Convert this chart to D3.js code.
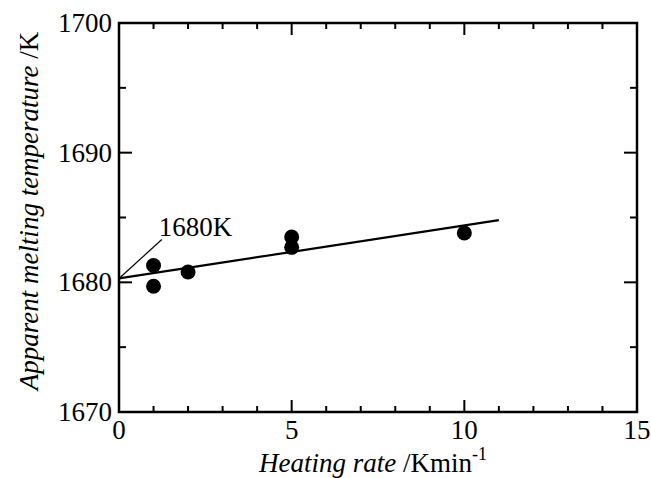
<!DOCTYPE html>
<html><head><meta charset="utf-8">
<script src="https://cdn.jsdelivr.net/npm/d3@7"></script>
</head><body style="margin:0">
<svg id="c" width="651" height="478" style="font-family: 'Liberation Serif'"></svg>
<script>
const rates = [1, 1, 2, 5, 5, 10];
const temps = [1681.3, 1679.7, 1680.8, 1683.5, 1682.7, 1683.8];
const fitX = [0, 11];
const fitY = [1680.3, 1684.8];
const xTicks = [0, 5, 10, 15];
const yTicks = [1670, 1680, 1690, 1700];
const annotation = "1680K";
const FONT = "Liberation Serif";

const svg = d3.select("#c");
const L = 119, R = 637, T = 23, B = 412;
const x = d3.scaleLinear().domain([0, 15]).range([L, R]);
const y = d3.scaleLinear().domain([1670, 1700]).range([B, T]);

const g = svg.append("g");
const minorX = d3.range(0, 16, 1);
const minorY = d3.range(1670, 1701, 5);
minorX.forEach(v => {
  const major = v % 5 === 0;
  const len = major ? 12 : 6;
  g.append("line").attr("x1", x(v)).attr("x2", x(v)).attr("y1", B).attr("y2", B - len).attr("stroke", "#000").attr("stroke-width", 2);
  g.append("line").attr("x1", x(v)).attr("x2", x(v)).attr("y1", T).attr("y2", T + len).attr("stroke", "#000").attr("stroke-width", 2);
});
minorY.forEach(v => {
  const major = v % 10 === 0;
  const len = major ? 13 : 7;
  g.append("line").attr("x1", L).attr("x2", L + len).attr("y1", y(v)).attr("y2", y(v)).attr("stroke", "#000").attr("stroke-width", 2);
  g.append("line").attr("x1", R).attr("x2", R - len).attr("y1", y(v)).attr("y2", y(v)).attr("stroke", "#000").attr("stroke-width", 2);
});
svg.append("rect").attr("x", L).attr("y", T).attr("width", R - L).attr("height", B - T)
  .attr("fill", "none").attr("stroke", "#000").attr("stroke-width", 2.5);

svg.selectAll(".xl").data(xTicks).enter().append("text")
  .style("font-family", FONT)
  .attr("x", d => x(d)).attr("y", B + 27).attr("text-anchor", "middle")
  .attr("font-size", 27).text(d => d);
svg.selectAll(".yl").data(yTicks).enter().append("text")
  .style("font-family", FONT)
  .attr("x", L - 7).attr("y", d => y(d) + 9).attr("text-anchor", "end")
  .attr("font-size", 27).text(d => d);

svg.append("line").attr("x1", x(fitX[0])).attr("y1", y(fitY[0])).attr("x2", x(fitX[1])).attr("y2", y(fitY[1]))
  .attr("stroke", "#000").attr("stroke-width", 2.2);

svg.append("line").attr("x1", x(0)).attr("y1", y(fitY[0])).attr("x2", x(1.24)).attr("y2", y(1683.3))
  .attr("stroke", "#000").attr("stroke-width", 1.2);
svg.append("text").style("font-family", FONT).attr("x", x(1.15)).attr("y", y(1683.6)).attr("font-size", 27).text(annotation);

svg.selectAll("circle").data(rates.map((r, i) => [r, temps[i]])).enter().append("circle")
  .attr("cx", d => x(d[0])).attr("cy", d => y(d[1])).attr("r", 7.5).attr("fill", "#000");

const xt = svg.append("text").style("font-family", FONT).attr("x", 373).attr("y", 472).attr("text-anchor", "middle").attr("font-size", 27);
xt.append("tspan").style("font-family", FONT).attr("font-style", "italic").text("Heating rate ");
xt.append("tspan").style("font-family", FONT).text("/Kmin");
xt.append("tspan").style("font-family", FONT).attr("dy", -12).attr("font-size", 18).text("-1");

const yt = svg.append("text").style("font-family", FONT).attr("transform", "translate(38,211) rotate(-90)").attr("text-anchor", "middle").attr("font-size", 27);
yt.append("tspan").style("font-family", FONT).attr("font-style", "italic").text("Apparent melting temperature ");
yt.append("tspan").style("font-family", FONT).text("/K");
</script>
</body></html>
